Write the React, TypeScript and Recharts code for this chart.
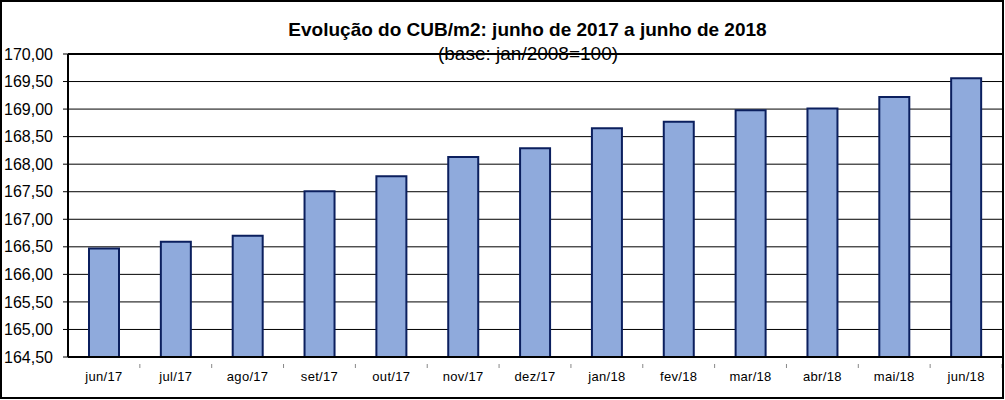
import React from 'react';
import { BarChart, Bar, XAxis, YAxis, CartesianGrid, ReferenceLine } from 'recharts';

const categories = ['jun/17', 'jul/17', 'ago/17', 'set/17', 'out/17', 'nov/17', 'dez/17', 'jan/18', 'fev/18', 'mar/18', 'abr/18', 'mai/18', 'jun/18'];
const cubValues = [166.47, 166.59, 166.70, 167.51, 167.78, 168.13, 168.29, 168.65, 168.77, 168.98, 169.01, 169.22, 169.56];
const yTicks = [164.5, 165, 165.5, 166, 166.5, 167, 167.5, 168, 168.5, 169, 169.5, 170];
const titleText = 'Evolução do CUB/m2: junho de 2017 a junho de 2018';
const subtitleText = '(base: jan/2008=100)';

const data = categories.map((c, i) => ({ name: c, value: cubValues[i] }));

const W = 1005;
const H = 400;
const XH = 30;
const M = { top: 54, right: 3, bottom: 43 - XH, left: 0 };
const YW = 68;
const PLOT_W = W - M.left - M.right - YW;
const STEP = PLOT_W / categories.length;
const FONT = '"Liberation Sans", Arial, sans-serif';

const fmt = (v: number) => v.toFixed(2).replace('.', ',');

const XTick = (props: any) => {
  const { x, y, payload } = props;
  const bx = x + STEP / 2;
  return (
    <g>
      <line x1={bx} y1={y - 1} x2={bx} y2={y + 3} stroke="#888" strokeWidth={1} />
      <text x={x} y={y + 16} textAnchor="middle" fontSize={13} fontFamily={FONT} fill="#000" letterSpacing={0.3}>
        {payload.value}
      </text>
    </g>
  );
};

export default function App() {
  return (
    <div style={{ position: 'absolute', left: 0, top: 0, width: W, height: H, background: '#fff' }}>
      <BarChart width={W} height={H} data={data} margin={M}>
        <CartesianGrid horizontal vertical={false} stroke="#000" strokeWidth={1} />
        <XAxis
          dataKey="name"
          height={XH}
          tick={<XTick />}
          tickLine={false}
          axisLine={{ stroke: '#000', strokeWidth: 2 }}
          interval={0}
        />
        <YAxis
          width={YW}
          domain={[164.5, 170]}
          ticks={yTicks}
          tickFormatter={fmt}
          allowDataOverflow
          axisLine={{ stroke: '#000', strokeWidth: 2 }}
          tickLine={{ stroke: '#000' }}
          tickSize={5}
          tickMargin={10}
          tick={{ fontSize: 16, fontFamily: FONT, fill: '#000' }}
        />
        <ReferenceLine y={170} stroke="#000" strokeWidth={2} />
        <Bar dataKey="value" fill="#8FAADC" stroke="#0B1F5E" strokeWidth={2} barSize={30} isAnimationActive={false} />
      </BarChart>
      <div style={{ position: 'absolute', left: 0, top: 0, width: W - 1, height: H - 1, boxSizing: 'border-box', border: '2px solid #000', pointerEvents: 'none' }} />
      <div style={{ position: 'absolute', left: 0, width: 1055, top: 19, textAlign: 'center', fontFamily: FONT, fontWeight: 'bold', fontSize: 19, lineHeight: '22px', color: '#000', whiteSpace: 'nowrap' }}>
        {titleText}
      </div>
      <div style={{ position: 'absolute', left: 0, width: 1056, top: 43, textAlign: 'center', fontFamily: FONT, fontSize: 19, lineHeight: '22px', color: '#000', whiteSpace: 'nowrap' }}>
        {subtitleText}
      </div>
    </div>
  );
}
